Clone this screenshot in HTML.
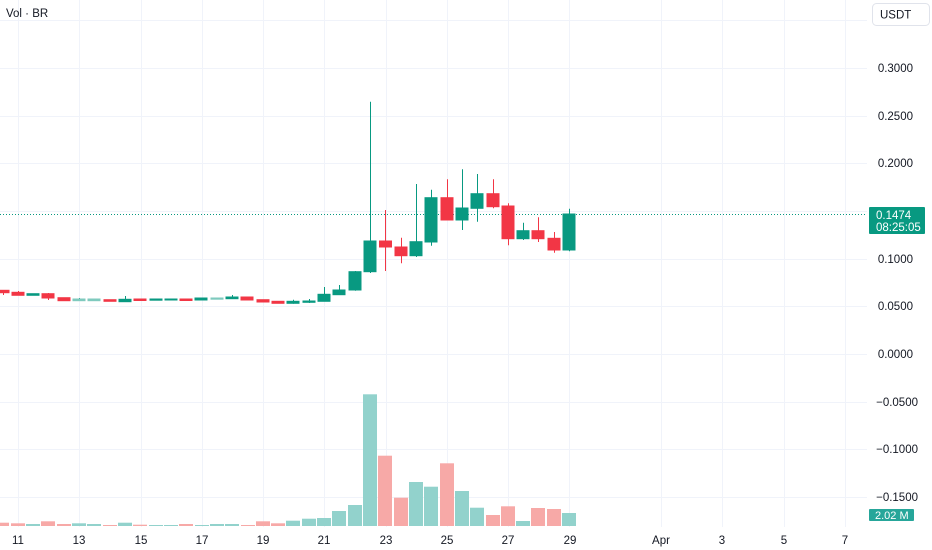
<!DOCTYPE html>
<html><head><meta charset="utf-8"><style>
html,body{margin:0;padding:0;background:#fff;}
svg{display:block;font-family:"Liberation Sans",sans-serif;}
</style></head><body>
<svg width="932" height="550" viewBox="0 0 932 550" xmlns="http://www.w3.org/2000/svg">
<rect width="932" height="550" fill="#fff"/>
<g stroke="#f0f3fa" stroke-width="1">
<line x1="0" y1="20.5" x2="867" y2="20.5"/>
<line x1="0" y1="68.5" x2="867" y2="68.5"/>
<line x1="0" y1="116.5" x2="867" y2="116.5"/>
<line x1="0" y1="163.5" x2="867" y2="163.5"/>
<line x1="0" y1="211.5" x2="867" y2="211.5"/>
<line x1="0" y1="259.5" x2="867" y2="259.5"/>
<line x1="0" y1="306.5" x2="867" y2="306.5"/>
<line x1="0" y1="354.5" x2="867" y2="354.5"/>
<line x1="0" y1="402.5" x2="867" y2="402.5"/>
<line x1="0" y1="449.5" x2="867" y2="449.5"/>
<line x1="0" y1="497.5" x2="867" y2="497.5"/>
<line x1="18.5" y1="0" x2="18.5" y2="527"/>
<line x1="79.5" y1="0" x2="79.5" y2="527"/>
<line x1="141.5" y1="0" x2="141.5" y2="527"/>
<line x1="202.5" y1="0" x2="202.5" y2="527"/>
<line x1="263.5" y1="0" x2="263.5" y2="527"/>
<line x1="324.5" y1="0" x2="324.5" y2="527"/>
<line x1="386.5" y1="0" x2="386.5" y2="527"/>
<line x1="447.5" y1="0" x2="447.5" y2="527"/>
<line x1="508.5" y1="0" x2="508.5" y2="527"/>
<line x1="569.5" y1="0" x2="569.5" y2="527"/>
<line x1="661.5" y1="0" x2="661.5" y2="527"/>
<line x1="722.5" y1="0" x2="722.5" y2="527"/>
<line x1="784.5" y1="0" x2="784.5" y2="527"/>
<line x1="845.5" y1="0" x2="845.5" y2="527"/>
</g>
<!-- volume -->
<g>
<rect x="-5" y="522.7" width="14" height="3.3" fill="#f7a9a7"/>
<rect x="11" y="523.3" width="14" height="2.7" fill="#f7a9a7"/>
<rect x="26" y="524" width="14" height="2" fill="#92d2cc"/>
<rect x="41" y="521.3" width="14" height="4.7" fill="#f7a9a7"/>
<rect x="57" y="524" width="14" height="2" fill="#f7a9a7"/>
<rect x="72" y="523.3" width="14" height="2.7" fill="#92d2cc"/>
<rect x="87" y="524" width="14" height="2" fill="#92d2cc"/>
<rect x="103" y="525" width="14" height="1" fill="#f7a9a7"/>
<rect x="118" y="522.7" width="14" height="3.3" fill="#92d2cc"/>
<rect x="133" y="524.7" width="14" height="1.3" fill="#f7a9a7"/>
<rect x="149" y="525" width="14" height="1" fill="#92d2cc"/>
<rect x="164" y="525" width="14" height="1" fill="#92d2cc"/>
<rect x="179" y="524" width="14" height="2" fill="#f7a9a7"/>
<rect x="195" y="525" width="14" height="1" fill="#92d2cc"/>
<rect x="210" y="524" width="14" height="2" fill="#92d2cc"/>
<rect x="225" y="524" width="14" height="2" fill="#92d2cc"/>
<rect x="241" y="525" width="14" height="1" fill="#f7a9a7"/>
<rect x="256" y="521.3" width="14" height="4.7" fill="#f7a9a7"/>
<rect x="271" y="523.3" width="14" height="2.7" fill="#f7a9a7"/>
<rect x="286" y="520.7" width="14" height="5.3" fill="#92d2cc"/>
<rect x="302" y="518.7" width="14" height="7.3" fill="#92d2cc"/>
<rect x="317" y="518" width="14" height="8" fill="#92d2cc"/>
<rect x="332" y="511" width="14" height="15" fill="#92d2cc"/>
<rect x="348" y="505" width="14" height="21" fill="#92d2cc"/>
<rect x="363" y="394.3" width="14" height="131.7" fill="#92d2cc"/>
<rect x="378" y="455.7" width="14" height="70.3" fill="#f7a9a7"/>
<rect x="394" y="497.7" width="14" height="28.3" fill="#f7a9a7"/>
<rect x="409" y="482" width="14" height="44" fill="#92d2cc"/>
<rect x="424" y="486.7" width="14" height="39.3" fill="#92d2cc"/>
<rect x="440" y="463.3" width="14" height="62.7" fill="#f7a9a7"/>
<rect x="455" y="491" width="14" height="35" fill="#92d2cc"/>
<rect x="470" y="507.7" width="14" height="18.3" fill="#92d2cc"/>
<rect x="486" y="515" width="14" height="11" fill="#f7a9a7"/>
<rect x="501" y="506.3" width="14" height="19.7" fill="#f7a9a7"/>
<rect x="516" y="521" width="14" height="5" fill="#92d2cc"/>
<rect x="531" y="508" width="14" height="18" fill="#f7a9a7"/>
<rect x="547" y="509" width="14" height="17" fill="#f7a9a7"/>
<rect x="562" y="513" width="14" height="13" fill="#92d2cc"/>
</g>
<!-- last price line -->
<line x1="0" y1="214.5" x2="867" y2="214.5" stroke="#089981" stroke-width="1" stroke-dasharray="1,2"/>
<!-- candles -->
<g stroke-width="1">
<g stroke="#f23645" fill="#f23645">
<line x1="3.5" y1="290" x2="3.5" y2="295"/><rect x="-3" y="290.3" width="12" height="2.4"/>
<line x1="18.5" y1="291" x2="18.5" y2="295.5"/><rect x="12" y="292.3" width="12" height="3"/>
<line x1="48.5" y1="293" x2="48.5" y2="300"/><rect x="42" y="293.7" width="12" height="4.3"/>
<rect x="58" y="297.7" width="12" height="3"/>
<rect x="104" y="299.7" width="12" height="1.6"/>
<rect x="134" y="299" width="12" height="1.5"/>
<rect x="180" y="299" width="12" height="1.5"/>
<rect x="241" y="297" width="12" height="3"/>
<rect x="257" y="299.7" width="12" height="2.3"/>
<rect x="272" y="301.3" width="12" height="2"/>
<line x1="385.5" y1="210" x2="385.5" y2="271"/><rect x="379.5" y="241" width="12" height="6"/>
<line x1="401.5" y1="237.7" x2="401.5" y2="263.3"/><rect x="395" y="247" width="12" height="8.7"/>
<line x1="447.5" y1="179.3" x2="447.5" y2="220"/><rect x="441" y="197.7" width="12" height="22.3"/>
<line x1="493.5" y1="179.3" x2="493.5" y2="208.3"/><rect x="487" y="193.7" width="12" height="13"/>
<line x1="508.5" y1="203.3" x2="508.5" y2="245.3"/><rect x="502" y="206" width="12" height="32.7"/>
<line x1="538.5" y1="217.3" x2="538.5" y2="242"/><rect x="532" y="230.7" width="12" height="8"/>
<line x1="554.5" y1="232" x2="554.5" y2="252.7"/><rect x="548" y="238.3" width="12" height="11.7"/>
</g>
<g stroke="#089981" fill="#089981">
<rect x="27" y="293.7" width="12" height="1.6"/>
<line x1="79.5" y1="298" x2="79.5" y2="301"/><rect x="73" y="299" width="12" height="1.7" fill="#7fcabe" stroke="#7fcabe"/>
<rect x="88" y="299" width="12" height="1.7" fill="#7fcabe" stroke="#7fcabe"/>
<line x1="125.5" y1="296" x2="125.5" y2="302"/><rect x="119" y="299.3" width="12" height="2.4"/>
<rect x="150" y="299" width="12" height="1.2"/>
<rect x="165" y="299" width="12" height="1"/>
<rect x="195" y="298" width="12" height="2"/>
<rect x="211" y="298" width="12" height="1.2" fill="#7fcabe" stroke="#7fcabe"/>
<line x1="232.5" y1="295" x2="232.5" y2="298.7"/><rect x="226" y="297" width="12" height="1.7"/>
<line x1="293.5" y1="299.7" x2="293.5" y2="303.7"/><rect x="287" y="301.3" width="12" height="2"/>
<line x1="309.5" y1="299" x2="309.5" y2="303"/><rect x="303" y="301" width="12" height="1.3"/>
<line x1="324.5" y1="287" x2="324.5" y2="301.3"/><rect x="318" y="294.3" width="12" height="7"/>
<line x1="339.5" y1="285" x2="339.5" y2="294.7"/><rect x="333" y="290" width="12" height="4.7"/>
<line x1="355.5" y1="271" x2="355.5" y2="290.7"/><rect x="349" y="271.7" width="12" height="18.3"/>
<line x1="370.5" y1="101.7" x2="370.5" y2="273"/><rect x="364" y="241" width="12" height="30.7"/>
<line x1="416.5" y1="184" x2="416.5" y2="257"/><rect x="410" y="241.7" width="12" height="14"/>
<line x1="431.5" y1="189.7" x2="431.5" y2="245.7"/><rect x="425" y="197.7" width="12" height="44.3"/>
<line x1="462.5" y1="169.3" x2="462.5" y2="230"/><rect x="456" y="208" width="12" height="12"/>
<line x1="477.5" y1="174" x2="477.5" y2="221.7"/><rect x="471" y="193.7" width="12" height="14.6"/>
<line x1="523.5" y1="222.7" x2="523.5" y2="240"/><rect x="517" y="230.7" width="12" height="8"/>
<line x1="569.5" y1="208.7" x2="569.5" y2="251.3"/><rect x="563" y="214" width="12" height="36"/>
</g>
</g>
<!-- axis area -->
<rect x="867" y="0" width="65" height="550" fill="#fff"/>
<rect x="0" y="527" width="867" height="23" fill="#fff"/>
<g font-size="11.5" fill="#131722" text-anchor="end">
<text x="913" y="72">0.3000</text>
<text x="913" y="120">0.2500</text>
<text x="913" y="167">0.2000</text>
<text x="913" y="263">0.1000</text>
<text x="913" y="310">0.0500</text>
<text x="913" y="358">0.0000</text>
<text x="918" y="406">−0.0500</text>
<text x="918" y="453">−0.1000</text>
<text x="918" y="501">−0.1500</text>
</g>
<rect x="872.5" y="3.5" width="57" height="22" rx="4" fill="#fff" stroke="#e0e3eb"/>
<text x="880" y="18.5" font-size="11.5" fill="#131722">USDT</text>
<rect x="869" y="207" width="56" height="27" rx="1" fill="#089981"/>
<text x="876" y="219" font-size="11.5" fill="#fff">0.1474</text>
<text x="876" y="231" font-size="11.5" fill="#fff">08:25:05</text>
<rect x="869" y="509" width="45" height="12" rx="1" fill="#26a69a"/>
<text x="875" y="519" font-size="11" fill="#fff">2.02 M</text>
<g font-size="11.5" fill="#131722" text-anchor="middle">
<text x="18" y="544">11</text>
<text x="79" y="544">13</text>
<text x="141" y="544">15</text>
<text x="202" y="544">17</text>
<text x="263" y="544">19</text>
<text x="324" y="544">21</text>
<text x="386" y="544">23</text>
<text x="447" y="544">25</text>
<text x="508" y="544">27</text>
<text x="570" y="544">29</text>
<text x="661" y="544">Apr</text>
<text x="722" y="544">3</text>
<text x="784" y="544">5</text>
<text x="845" y="544">7</text>
</g>
<text x="6" y="17" font-size="11.5" fill="#131722">Vol · BR</text>
</svg>
</body></html>
